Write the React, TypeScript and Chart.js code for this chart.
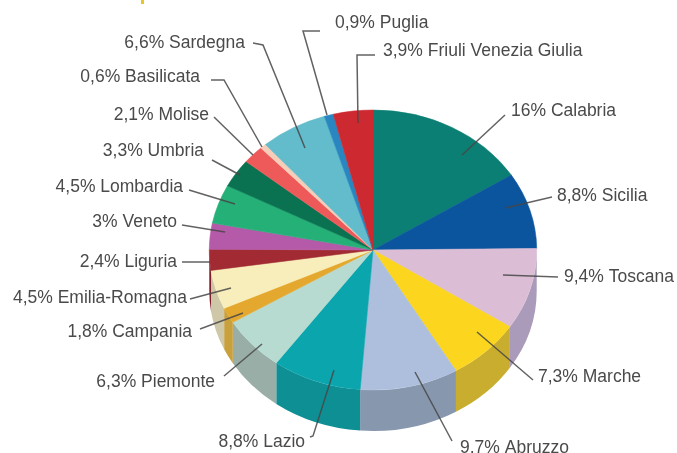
import React, { useEffect, useRef } from "react";
import { Chart, registerables } from "chart.js";

Chart.register(...registerables);

const regions = ["Calabria","Sicilia","Toscana","Marche","Abruzzo","Lazio","Piemonte","Campania","Emilia-Romagna","Liguria","Veneto","Lombardia","Umbria","Molise","Basilicata","Sardegna","Puglia","Friuli Venezia Giulia"];
const shares = [16,8.8,9.4,7.3,9.7,8.8,6.3,1.8,4.5,2.4,3,4.5,3.3,2.1,0.6,6.6,0.9,3.9];
const shareLabels = ["16%","8,8%","9,4%","7,3%","9,7%","8,8%","6,3%","1,8%","4,5%","2,4%","3%","4,5%","3,3%","2,1%","0,6%","6,6%","0,9%","3,9%"];
const topColors = ["#0b7f73","#0a559e","#dcbdd6","#fbd51e","#adbfdc","#0ba5ad","#b7dbd0","#e5a82e","#f8eebb","#a12a33","#b45aa8","#25b078","#0a7250","#ee5a5a","#f6cdb8","#62bccb","#2a86c0","#cc2a30"];
const sideColors = ["#0b7f73","#0a559e","#a99bb9","#c9ad2e","#8797ae","#0e8f94","#99aea6","#c8a03c","#cfc8a8","#7d2028","#8d4683","#1c8a5e","#085a3f","#bb4646","#c2a190","#4c94a0","#216998","#a02126"];

// Annotation layout: text anchor [x, y, align] and leader polyline.
const labelLayout: [number, number, CanvasTextAlign, number[][]][] = [
  [511,111,"left",[[505,115],[462,155]]],
  [557,196,"left",[[552,197],[505,208]]],
  [564,277,"left",[[558,277],[503,275]]],
  [538,377,"left",[[533,380],[477,332]]],
  [460,448,"left",[[452,441],[415,372]]],
  [305,442,"right",[[310,437],[313,436],[334,370]]],
  [215,382,"right",[[224,376],[262,344]]],
  [192,332,"right",[[200,329],[243,313]]],
  [187,298,"right",[[190,299],[231,288]]],
  [177,262,"right",[[182,262],[210,262]]],
  [177,222,"right",[[182,225],[225,232]]],
  [183,187,"right",[[189,190],[235,204]]],
  [204,151,"right",[[212,160],[240,175]]],
  [209,115,"right",[[214,117],[253,155]]],
  [200,77,"right",[[211,80],[224,80],[262,147]]],
  [245,43,"right",[[253,43],[263,45],[305,148]]],
  [335,23,"left",[[320,31],[303,31],[327,115]]],
  [383,51,"left",[[375,55],[357,55],[358,123]]],
];

const SQUASH = 0.855;
const DEPTH = 48;

const piePlugin = {
  id: "pie3d",
  beforeDatasetsDraw(chart: any) {
    const ctx = chart.ctx;
    const arcs = chart.getDatasetMeta(0).data;
    const { x: cx, y: cy } = arcs[0];
    ctx.save();
    ctx.translate(cx, cy);
    ctx.scale(1, SQUASH);
    ctx.translate(-cx, -cy);
    arcs.forEach((arc: any, i: number) => {
      const a0 = Math.max(arc.startAngle, 0);
      const a1 = Math.min(arc.endAngle, Math.PI);
      if (a1 <= a0) return;
      ctx.beginPath();
      ctx.arc(cx, cy, arc.outerRadius, a0, a1);
      ctx.arc(cx, cy + DEPTH, arc.outerRadius, a1, a0, true);
      ctx.closePath();
      ctx.fillStyle = sideColors[i];
      ctx.fill();
    });
  },
  afterDatasetsDraw(chart: any) {
    chart.ctx.restore();
  },
  afterDraw(chart: any) {
    const ctx = chart.ctx;
    ctx.save();
    ctx.fillStyle = "#e6c72a";
    ctx.fillRect(141, 0, 3, 4);
    ctx.strokeStyle = "rgba(70,70,70,0.85)";
    ctx.lineWidth = 1.5;
    ctx.font = "17.5px 'Liberation Sans', Arial, sans-serif";
    ctx.fillStyle = "#4a4a4a";
    ctx.textBaseline = "middle";
    labelLayout.forEach(([x, y, align, line], i) => {
      ctx.beginPath();
      line.forEach(([px, py], j) => (j ? ctx.lineTo(px, py) : ctx.moveTo(px, py)));
      ctx.stroke();
      ctx.textAlign = align;
      ctx.fillText(`${shareLabels[i]} ${regions[i]}`, x, y);
    });
    ctx.restore();
  },
};

export default function App() {
  const ref = useRef<HTMLCanvasElement>(null);
  useEffect(() => {
    const chart = new Chart(ref.current!, {
      type: "pie",
      data: {
        labels: regions,
        datasets: [{ data: shares, backgroundColor: topColors, borderColor: topColors, borderWidth: 0.6 }],
      },
      options: {
        animation: false,
        responsive: false,
        layout: { padding: { left: 209, right: 140, top: 86, bottom: 39 } },
        plugins: { legend: { display: false }, tooltip: { enabled: false } },
      },
      plugins: [piePlugin],
    });
    return () => chart.destroy();
  }, []);
  return (
    <div style={{ position: "absolute", left: 0, top: 0, width: 677, height: 453, background: "#fff", overflow: "hidden" }}>
      <canvas ref={ref} width={677} height={453} style={{ display: "block", filter: "blur(0.5px)" }} />
    </div>
  );
}
